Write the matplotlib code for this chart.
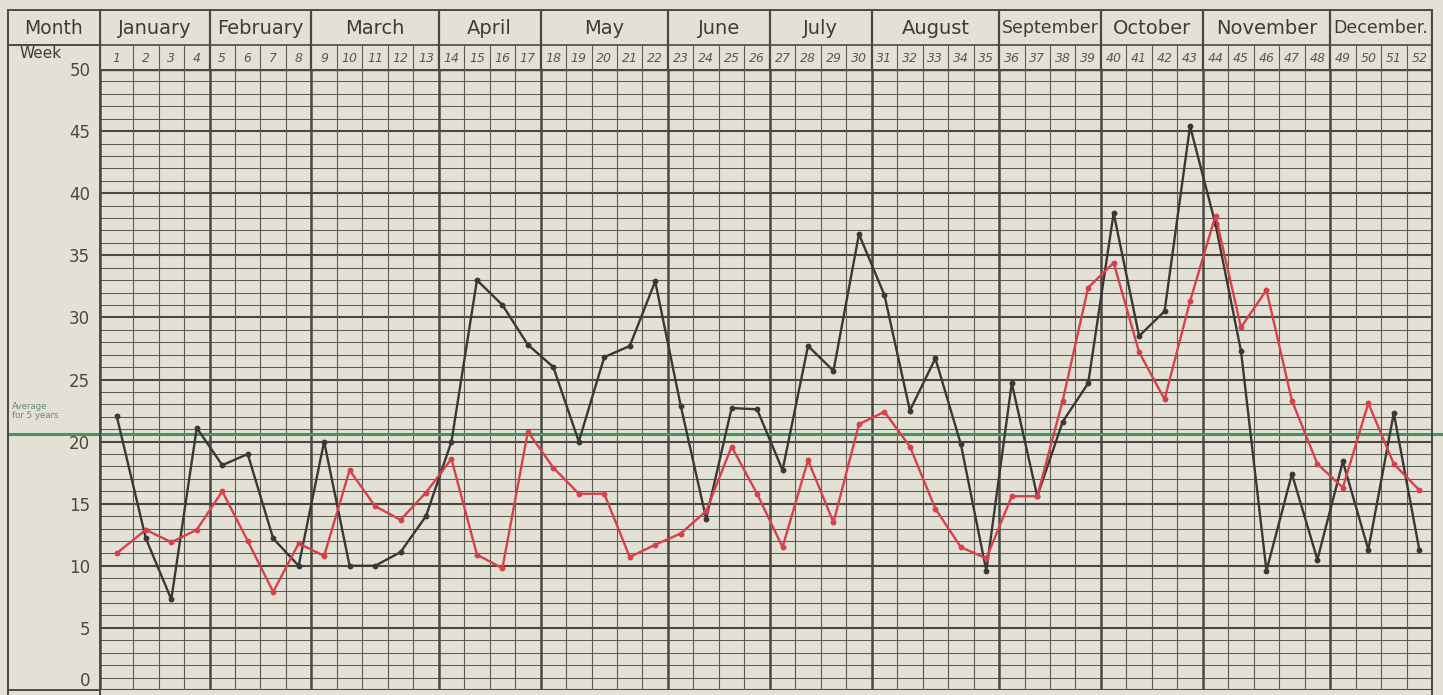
import numpy as np
import matplotlib
matplotlib.use('Agg')
import matplotlib.pyplot as plt
import matplotlib.transforms as mtransforms
from matplotlib.lines import Line2D

# data
months = ['January', 'February', 'March', 'April', 'May', 'June', 'July',
          'August', 'September', 'October', 'November', 'December.']
weeks_in_month = [4, 4, 5, 4, 5, 4, 4, 5, 4, 4, 5, 4]
weeks = list(range(1, 53))

black_vals = [22.1, 12.2, 7.3, 21.1, 18.1, 19.0, 12.2, 10.0, 20.0, 10.0,
              10.0, 11.1, 14.0, 20.0, 33.0, 31.0, 27.8, 26.0, 20.0, 26.8,
              27.7, 32.9, 22.9, 13.8, 22.7, 22.6, 17.7, 27.7, 25.7, 36.7,
              31.8, 22.5, 26.7, 19.8, 9.6, 24.7, 15.6, 21.6, 24.7, 38.4,
              28.5, 30.5, 45.4, 37.5, 27.3, 9.6, 17.4, 10.5, 18.4, 11.3,
              22.3, 11.3]
red_vals = [11.0, 12.9, 11.9, 12.9, 16.0, 12.0, 7.9, 11.8, 10.8, 17.7,
            14.8, 13.7, 15.9, 18.6, 10.9, 9.8, 20.8, 17.9, 15.8, 15.8,
            10.7, 11.7, 12.6, 14.4, 19.6, 15.8, 11.5, 18.5, 13.5, 21.4,
            22.4, 19.6, 14.6, 11.5, 10.6, 15.6, 15.6, 23.3, 32.4, 34.4,
            27.2, 23.4, 31.3, 38.2, 29.2, 32.2, 23.3, 18.2, 16.3, 23.1,
            18.2, 16.1]
average_5y = 20.6
yticks = list(range(0, 51, 5))

paper = '#e3e1d6'
grid = '#4b4844'
grid_light = '#5e5a55'
ink = '#3a3836'
red = '#d6424a'
green = '#3d9a5c'

W, H = 1443, 695
def fx(px):
    return px / W
def fy(py):
    return 1 - py / H

fig = plt.figure(figsize=(W / 100, H / 100), dpi=100)
fig.patch.set_facecolor(paper)

# week 1 column is a bit wider on the original sheet
edges = np.r_[-0.3, np.arange(1, 53)]
centers = (edges[:-1] + edges[1:]) / 2
month_edges = np.r_[0, np.cumsum(weeks_in_month)]

ax = fig.add_axes([fx(100), fy(690), fx(1432) - fx(100), fy(69) - fy(690)])
ax.set_facecolor(paper)
ax.set_xlim(edges[0], edges[-1])
ax.set_ylim(0, 50)
for s in ax.spines.values():
    s.set_visible(False)

for v in range(0, 51):
    if v == 50:
        ax.axhline(v, color=grid, lw=3.2, zorder=1)
    elif v % 5 == 0:
        ax.axhline(v, color=grid, lw=1.5, zorder=1)
    else:
        ax.axhline(v, color=grid_light, lw=0.75, zorder=1)
for i, e in enumerate(edges):
    if i in month_edges:
        ax.axvline(e, color=grid, lw=1.8, zorder=1)
    else:
        ax.axvline(e, color=grid_light, lw=0.8, zorder=1)

ax.set_xticks([])
ax.set_yticks(yticks)
ax.set_yticklabels([str(t) for t in yticks])
ax.tick_params(axis='y', length=0, pad=7, labelsize=12, labelcolor='#4a4744')
ax.get_yticklabels()[0].set_va('bottom')

ax.plot(centers, black_vals, color=ink, lw=1.7, marker='o', ms=3.2, zorder=4)
ax.plot(centers, red_vals, color=red, lw=1.7, marker='o', ms=3.2, zorder=5)

# average line runs across the whole sheet
blend = mtransforms.blended_transform_factory(fig.transFigure, ax.transData)
ax.add_line(Line2D([fx(8), 1.0], [average_5y, average_5y], transform=blend,
                   color=green, lw=2.2, clip_on=False, zorder=3))
fig.text(fx(12), fy(402), 'Average\nfor 5 years', fontsize=6.2, color='#6b8a72',
         va='top', ha='left', linespacing=1.0)

# header rows
axh = fig.add_axes([fx(100), fy(69), fx(1432) - fx(100), fy(10) - fy(69)])
axh.set_xlim(edges[0], edges[-1])
axh.set_ylim(0, 59)
axh.axis('off')
axh.axhline(24, color=grid, lw=1.2)
for i, e in enumerate(edges):
    if i in month_edges:
        axh.plot([e, e], [0, 59], color=grid, lw=1.6)
    else:
        axh.plot([e, e], [0, 24], color=grid_light, lw=0.8)
for w, c in zip(weeks, centers):
    axh.text(c, 11, str(w), ha='center', va='center', fontsize=9,
             style='italic', color='#5a5753')
for m, a, b in zip(months, month_edges[:-1], month_edges[1:]):
    fs = 12.5 if len(m) > 8 else 14
    axh.text((edges[a] + edges[b]) / 2, 41, m, ha='center', va='center',
             fontsize=fs, color='#3e3c3a')

# left label column and outer frame
frame = dict(color=grid, lw=1.4, transform=fig.transFigure)
fig.add_artist(Line2D([fx(8), fx(8)], [fy(10), fy(695)], **frame))
fig.add_artist(Line2D([fx(8), fx(1432)], [fy(10), fy(10)], **frame))
fig.add_artist(Line2D([fx(8), fx(100)], [fy(45), fy(45)], **frame))
fig.add_artist(Line2D([fx(1432), fx(1432)], [fy(10), fy(695)], **frame))
fig.add_artist(Line2D([fx(8), fx(100)], [fy(690), fy(690)], **frame))
fig.add_artist(Line2D([fx(100), fx(100)], [fy(10), fy(695)], **frame))
fig.text(fx(54), fy(28), 'Month', fontsize=13.5, color='#3e3c3a',
         ha='center', va='center')
fig.text(fx(20), fy(54), 'Week', fontsize=11, color='#3e3c3a',
         ha='left', va='center')

fig.savefig('out.png', dpi=100, facecolor=paper)
